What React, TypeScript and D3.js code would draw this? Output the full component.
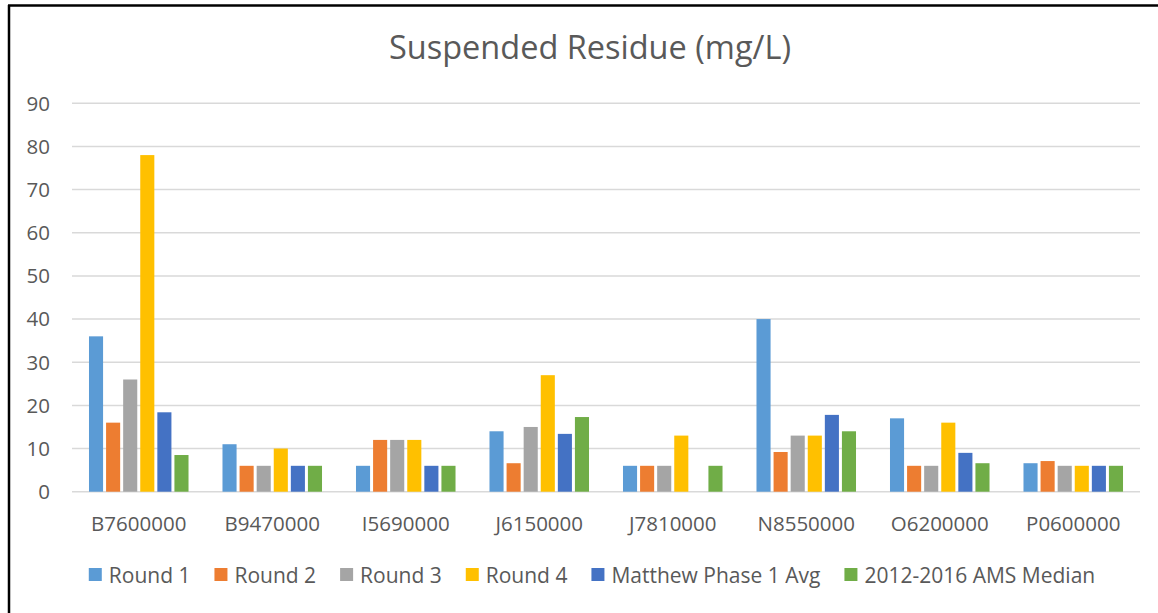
import React, { useEffect, useRef } from "react";
import * as d3 from "d3";

const categories = ["B7600000", "B9470000", "I5690000", "J6150000", "J7810000", "N8550000", "O6200000", "P0600000"];
const seriesNames = ["Round 1", "Round 2", "Round 3", "Round 4", "Matthew Phase 1 Avg", "2012-2016 AMS Median"];
const colors = ["#5B9BD5", "#ED7D31", "#A5A5A5", "#FFC000", "#4472C4", "#70AD47"];

const round1 = [36, 11, 6, 14, 6, 40, 17, 6.6];
const round2 = [16, 6, 12, 6.6, 6, 9.2, 6, 7.1];
const round3 = [26, 6, 12, 15, 6, 13, 6, 6];
const round4 = [78, 10, 12, 27, 13, 13, 16, 6];
const matthew = [18.4, 6, 6, 13.4, null, 17.8, 9, 6];
const amsMedian = [8.5, 6, 6, 17.3, 6, 14, 6.6, 6];

const yTicks = [0, 10, 20, 30, 40, 50, 60, 70, 80, 90];

const FONT = "'Open Sans', sans-serif";
const TEXT = "#595959";

const App = () => {
	const ref = useRef<HTMLDivElement>(null);

	useEffect(() => {
		const width = 1158;
		const height = 613;
		const plot = { left: 72, right: 1140, top: 103.3, bottom: 491.7 };
		const allSeries = [round1, round2, round3, round4, matthew, amsMedian];

		d3.select(ref.current).selectAll("*").remove();
		const svg = d3
			.select(ref.current)
			.append("svg")
			.attr("width", width)
			.attr("height", height)
			.style("position", "absolute")
			.style("left", "0px")
			.style("top", "0px")
			.style("background", "#fff");

		const x0 = d3.scaleBand().domain(categories).range([plot.left, plot.right]).paddingInner(0.232).paddingOuter(0.116);
		const x1 = d3.scaleBand().domain(seriesNames).range([0, x0.bandwidth()]);
		const y = d3.scaleLinear().domain([0, 90]).range([plot.bottom, plot.top]);

		// gridlines
		svg
			.append("g")
			.selectAll("line")
			.data(yTicks)
			.join("line")
			.attr("x1", plot.left)
			.attr("x2", plot.right)
			.attr("y1", (d) => y(d))
			.attr("y2", (d) => y(d))
			.attr("stroke", "#D9D9D9")
			.attr("stroke-width", 1.5);

		// y tick labels
		svg
			.append("g")
			.selectAll("text")
			.data(yTicks)
			.join("text")
			.attr("x", 50)
			.attr("y", (d) => y(d))
			.attr("dy", "0.36em")
			.attr("text-anchor", "end")
			.attr("font-family", FONT)
			.attr("font-size", 20.5)
			.attr("fill", TEXT)
			.text((d) => d);

		// bars
		const groups = svg
			.append("g")
			.selectAll("g")
			.data(categories)
			.join("g")
			.attr("transform", (d) => `translate(${x0(d)},0)`);

		groups
			.selectAll("rect")
			.data((_, i) => seriesNames.map((s, j) => ({ s, j, v: allSeries[j][i] })).filter((d) => d.v !== null))
			.join("rect")
			.attr("x", (d) => (x1(d.s) as number) + 1.5)
			.attr("width", x1.bandwidth() - 3)
			.attr("y", (d) => y(d.v as number))
			.attr("height", (d) => plot.bottom - y(d.v as number))
			.attr("fill", (d) => colors[d.j]);

		// category labels
		svg
			.append("g")
			.selectAll("text")
			.data(categories)
			.join("text")
			.attr("x", (d) => (x0(d) as number) + x0.bandwidth() / 2)
			.attr("y", 531)
			.attr("text-anchor", "middle")
			.attr("font-family", FONT)
			.attr("font-size", 20.5)
			.attr("fill", TEXT)
			.text((d) => d);

		// title
		svg
			.append("text")
			.attr("x", 590)
			.attr("y", 59)
			.attr("text-anchor", "middle")
			.attr("font-family", FONT)
			.attr("font-size", 32.5)
			.attr("fill", TEXT)
			.text("Suspended Residue (mg/L)");

		// legend
		const ctx = document.createElement("canvas").getContext("2d") as CanvasRenderingContext2D;
		ctx.font = `21px ${FONT}`;
		const sq = 13;
		const gap = 7;
		const spacing = 24;
		const widths = seriesNames.map((s) => sq + gap + ctx.measureText(s).width);
		const total = d3.sum(widths) + spacing * (seriesNames.length - 1);
		let cx = 592 - total / 2;
		const legend = svg.append("g");
		seriesNames.forEach((s, i) => {
			legend.append("rect").attr("x", cx).attr("y", 568).attr("width", sq).attr("height", sq).attr("fill", colors[i]);
			legend
				.append("text")
				.attr("x", cx + sq + gap)
				.attr("y", 582.5)
				.attr("font-family", FONT)
				.attr("font-size", 21)
				.attr("fill", TEXT)
				.text(s);
			cx += widths[i] + spacing;
		});

		// chart border (left and top visible)
		svg.append("line").attr("x1", 9).attr("x2", 9).attr("y1", 5).attr("y2", height).attr("stroke", "#000").attr("stroke-width", 2.5);
		svg.append("line").attr("x1", 8).attr("x2", width).attr("y1", 5.5).attr("y2", 5.5).attr("stroke", "#000").attr("stroke-width", 2.5);
	}, []);

	return <div ref={ref}></div>;
};

export default App;
